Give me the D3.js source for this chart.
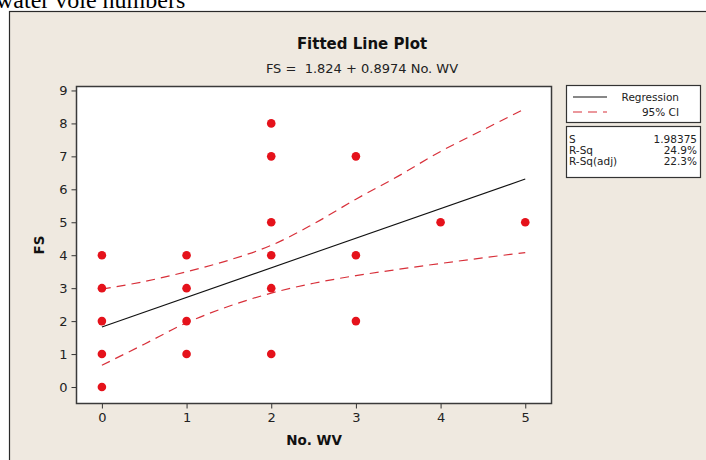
<!DOCTYPE html>
<html>
<head>
<meta charset="utf-8">
<script src="https://cdn.jsdelivr.net/npm/d3@7"></script>
<style>
  html, body { margin: 0; padding: 0; background: #fff; }
  svg { display: block; }
</style>
</head>
<body>
<div id="chart"></div>
<script>
(function() {
  var width = 706,
      height = 460;

  // observed points (No. WV, FS)
  var wvValues = [0, 0, 0, 0, 0, 1, 1, 1, 1, 2, 2, 2, 2, 2, 2, 3, 3, 3, 4, 5];
  var fsValues = [0, 1, 2, 3, 4, 1, 2, 3, 4, 1, 3, 4, 5, 7, 8, 2, 4, 7, 5, 5];

  // fitted line FS = 1.824 + 0.8974 No. WV, end points
  var fitX = [0, 5];
  var fitY = [1.824, 6.311];

  // 95% CI bands
  var ciX     = [0, 0.5, 1, 1.5, 2, 2.5, 3, 3.5, 4, 4.5, 5];
  var ciUpper = [2.97, 3.2, 3.5, 3.85, 4.3, 4.95, 5.7, 6.4, 7.15, 7.8, 8.45];
  var ciLower = [0.66, 1.3, 1.95, 2.45, 2.85, 3.15, 3.38, 3.57, 3.75, 3.92, 4.08];

  var xTicks = [0, 1, 2, 3, 4, 5];
  var yTicks = [0, 1, 2, 3, 4, 5, 6, 7, 8, 9];

  var statLabels = ["S", "R-Sq", "R-Sq(adj)"];
  var statValues = ["1.98375", "24.9%", "22.3%"];

  var font = "'DejaVu Sans', Verdana, sans-serif";

  var svg = d3.select("#chart").append("svg")
      .attr("width", width)
      .attr("height", height);

  // caption text cut off at the top of the picture (as in the original)
  svg.append("text")
      .attr("x", -4)
      .attr("y", 8)
      .attr("font-family", "'Liberation Serif', 'Times New Roman', serif")
      .attr("font-size", 24)
      .attr("fill", "#000")
      .text("water vole numbers");

  // graph window background
  svg.append("rect")
      .attr("x", 9.5).attr("y", 11.5)
      .attr("width", 720).attr("height", 480)
      .attr("fill", "#efe9e0")
      .attr("stroke", "#2a2a2a")
      .attr("stroke-width", 1.2);

  var plot = { left: 76.5, right: 551.5, top: 86.5, bottom: 403.5 };

  var x = d3.scaleLinear().domain([-0.3, 5.31]).range([plot.left, plot.right]);
  var y = d3.scaleLinear().domain([-0.5, 9.12]).range([plot.bottom, plot.top]);

  svg.append("rect")
      .attr("x", plot.left).attr("y", plot.top)
      .attr("width", plot.right - plot.left)
      .attr("height", plot.bottom - plot.top)
      .attr("fill", "#fff");

  // axes
  var xAxis = svg.append("g")
      .attr("transform", "translate(0," + plot.bottom + ")")
      .call(d3.axisBottom(x).tickValues(xTicks).tickSize(5).tickPadding(4).tickFormat(d3.format("d")));
  var yAxis = svg.append("g")
      .attr("transform", "translate(" + plot.left + ",0)")
      .call(d3.axisLeft(y).tickValues(yTicks).tickSize(5).tickPadding(4).tickFormat(d3.format("d")));

  [xAxis, yAxis].forEach(function(g) {
    g.select(".domain").remove();
    g.selectAll("line").attr("stroke", "#333");
    g.selectAll("text")
      .attr("font-family", font)
      .attr("font-size", 13)
      .attr("fill", "#222");
  });

  // plot border
  svg.append("rect")
      .attr("x", plot.left).attr("y", plot.top)
      .attr("width", plot.right - plot.left)
      .attr("height", plot.bottom - plot.top)
      .attr("fill", "none")
      .attr("stroke", "#3a3a3a")
      .attr("stroke-width", 1.5);

  // CI bands
  var ciLine = function(vals) {
    return d3.line()
      .x(function(d, i) { return x(ciX[i]); })
      .y(function(d) { return y(d); })
      .curve(d3.curveCatmullRom)(vals);
  };
  [ciUpper, ciLower].forEach(function(vals) {
    svg.append("path")
        .attr("d", ciLine(vals))
        .attr("fill", "none")
        .attr("stroke", "#d8303a")
        .attr("stroke-width", 1.2)
        .attr("stroke-dasharray", "9,6");
  });

  // fitted line
  svg.append("path")
      .attr("d", d3.line()
        .x(function(d, i) { return x(fitX[i]); })
        .y(function(d) { return y(d); })(fitY))
      .attr("fill", "none")
      .attr("stroke", "#111")
      .attr("stroke-width", 1.1);

  // points
  svg.append("g").selectAll("circle")
      .data(fsValues)
      .enter().append("circle")
      .attr("cx", function(d, i) { return x(wvValues[i]); })
      .attr("cy", function(d) { return y(d); })
      .attr("r", 4.3)
      .attr("fill", "#e5121b");

  // titles
  svg.append("text")
      .attr("x", 362).attr("y", 49)
      .attr("text-anchor", "middle")
      .attr("font-family", font)
      .attr("font-weight", "bold")
      .attr("font-size", 15)
      .attr("fill", "#111")
      .text("Fitted Line Plot");
  svg.append("text")
      .attr("x", 362).attr("y", 73)
      .attr("text-anchor", "middle")
      .attr("font-family", font)
      .attr("font-size", 13)
      .attr("fill", "#222")
      .attr("xml:space", "preserve")
      .text("FS =  1.824 + 0.8974 No. WV");

  svg.append("text")
      .attr("x", (plot.left + plot.right) / 2).attr("y", 445)
      .attr("text-anchor", "middle")
      .attr("font-family", font)
      .attr("font-weight", "bold")
      .attr("font-size", 13.5)
      .attr("fill", "#111")
      .text("No. WV");
  svg.append("text")
      .attr("transform", "translate(44," + ((plot.top + plot.bottom) / 2) + ") rotate(-90)")
      .attr("text-anchor", "middle")
      .attr("font-family", font)
      .attr("font-weight", "bold")
      .attr("font-size", 13.5)
      .attr("fill", "#111")
      .text("FS");

  // legend
  var lg = svg.append("g");
  lg.append("rect")
      .attr("x", 566.5).attr("y", 85.5)
      .attr("width", 134).attr("height", 37)
      .attr("fill", "#fff").attr("stroke", "#333").attr("stroke-width", 1.2);
  lg.append("line")
      .attr("x1", 573).attr("x2", 607).attr("y1", 97).attr("y2", 97)
      .attr("stroke", "#111").attr("stroke-width", 1.1);
  lg.append("line")
      .attr("x1", 573).attr("x2", 607).attr("y1", 112).attr("y2", 112)
      .attr("stroke", "#d8303a").attr("stroke-width", 1.2).attr("stroke-dasharray", "9,6");
  lg.append("text")
      .attr("x", 679).attr("y", 100.5)
      .attr("text-anchor", "end")
      .attr("font-family", font).attr("font-size", 10.5).attr("fill", "#222")
      .text("Regression");
  lg.append("text")
      .attr("x", 679).attr("y", 115.5)
      .attr("text-anchor", "end")
      .attr("font-family", font).attr("font-size", 10.5).attr("fill", "#222")
      .text("95% CI");

  // stats box
  lg.append("rect")
      .attr("x", 566.5).attr("y", 126.5)
      .attr("width", 134).attr("height", 51)
      .attr("fill", "#fff").attr("stroke", "#333").attr("stroke-width", 1.2);
  statLabels.forEach(function(lab, i) {
    lg.append("text")
        .attr("x", 569).attr("y", 143 + i * 11)
        .attr("font-family", font).attr("font-size", 10.5).attr("fill", "#222")
        .text(lab);
    lg.append("text")
        .attr("x", 697).attr("y", 143 + i * 11)
        .attr("text-anchor", "end")
        .attr("font-family", font).attr("font-size", 10.5).attr("fill", "#222")
        .text(statValues[i]);
  });
})();
</script>
</body>
</html>
